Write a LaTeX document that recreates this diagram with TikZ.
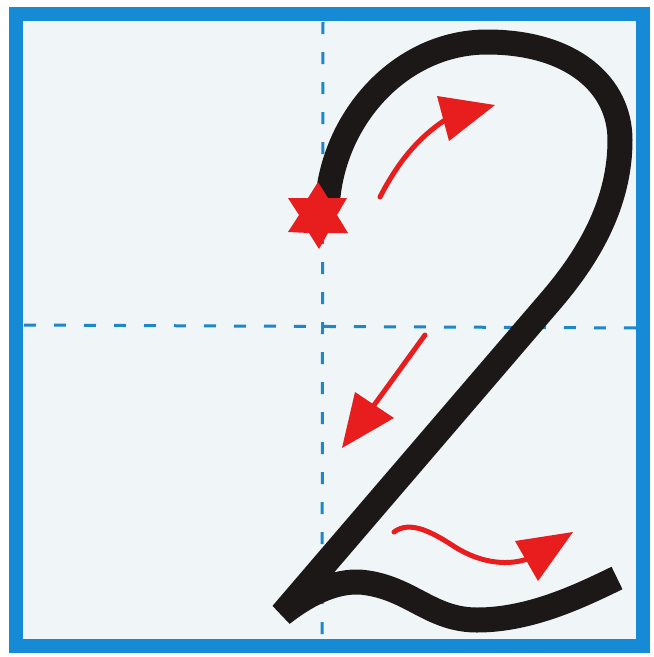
\documentclass[tikz,border=0pt]{standalone}
\definecolor{framecol}{RGB}{22,138,212}
\definecolor{guidecol}{RGB}{30,135,200}
\definecolor{digitcol}{RGB}{28,24,24}
\definecolor{redcol}{RGB}{232,30,30}
\definecolor{papercol}{RGB}{240,245,248}
\begin{document}
\begin{tikzpicture}[x=1pt,y=-1pt,
  guide/.style={draw=guidecol,line width=3pt,dash pattern=on 12pt off 18pt},
  digit/.style={draw=digitcol,line width=25pt,line join=bevel},
  redshaft/.style={draw=redcol,line width=5pt,line cap=round},
  redfill/.style={fill=redcol}]
\useasboundingbox (0,0) rectangle (654,657);
\fill[white] (0,0) rectangle (654,657);
\fill[papercol] (16,14) rectangle (643,646);
% guide lines
\coordinate (vt) at (323,22);
\coordinate (vb) at (322,639);
\coordinate (hl) at (24,325);
\coordinate (hr) at (637,328);
\draw[guide] (vt) -- (vb);
\draw[guide] (hl) -- (hr);
% frame
\draw[draw=framecol,line width=14pt] (16,14) rectangle (643,646);
% the digit 2
\draw[digit] (327,210) .. controls (330,120) and (400,42) .. (487,42)
  .. controls (572,42) and (620,85) .. (620,140)
  .. controls (620,200) and (592,252) .. (553,298)
  -- (282,614)
  .. controls (310,592) and (340,578) .. (368,583)
  .. controls (412,590) and (432,620) .. (477,620)
  .. controls (530,620) and (580,596) .. (617,578);
% star
\fill[redcol]
  (318,182) -- (328,198) -- (347,198) -- (337,215) -- (348,233) -- (328,233)
  -- (319,249) -- (309,233) -- (288,232) -- (299,215) -- (288,198) -- (308,198) -- cycle;
% arrow 1
\draw[redshaft] (380,197) .. controls (398,162) and (418,138) .. (445,120);
\fill[redfill] (495,105) -- (437,96) -- (449,141) -- cycle;
% arrow 2
\draw[redshaft] (425,335) -- (372,408);
\fill[redfill] (342,448) -- (355,392) -- (394,418) -- cycle;
% arrow 3
\draw[redshaft] (394,532) .. controls (410,520) and (432,532) .. (455,547)
  .. controls (482,564) and (510,566) .. (530,558);
\fill[redfill] (573,532) -- (515,541) -- (538,581) -- cycle;
\end{tikzpicture}
\end{document}
